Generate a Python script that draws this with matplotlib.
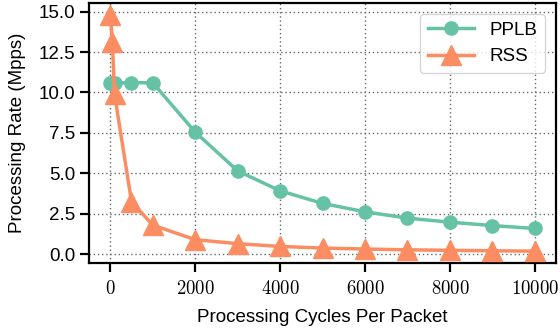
import matplotlib
matplotlib.use("Agg")
import matplotlib.pyplot as plt

# Values (Mpps)
cycles = [0, 50, 100, 500, 1000, 2000, 3000, 4000, 5000, 6000, 7000, 8000, 9000, 10000]
pplb = [10.6, 10.6, 10.6, 10.6, 10.6, 7.55, 5.15, 3.92, 3.14, 2.62, 2.23, 1.98, 1.77, 1.59]
rss = [14.8, 13.1, 9.9, 3.25, 1.8, 0.9, 0.65, 0.48, 0.38, 0.32, 0.27, 0.24, 0.21, 0.19]

x_ticks = [0, 2000, 4000, 6000, 8000, 10000]
y_ticks = [0, 2.5, 5.0, 7.5, 10.0, 12.5, 15.0]

GREEN = "#66c2a5"
ORANGE = "#fc8d62"

plt.rcParams["font.family"] = ["Liberation Sans", "DejaVu Sans"]
plt.rcParams["font.size"] = 13.5
plt.rcParams["mathtext.fontset"] = "cm"

fig, ax = plt.subplots(figsize=(5.6, 3.32), dpi=100)
fig.subplots_adjust(left=0.159, right=0.993, top=0.991, bottom=0.208)

ax.plot(cycles, pplb, color=GREEN, linewidth=2.5, marker="o", markersize=9.5, label="PPLB", zorder=3)
ax.plot(cycles, rss, color=ORANGE, linewidth=2.5, marker="^", markersize=14, label="RSS", zorder=3)

ax.set_yticks(y_ticks)
ax.set_yticklabels([f"{v:.1f}" for v in y_ticks])
ax.set_xticks(x_ticks)
# x tick labels come out in the serif math font in the reference
ax.set_xticklabels([f"${v}$" for v in x_ticks])

ax.grid(True, linestyle=(0, (1, 2)), color="#666666", linewidth=1)
ax.set_axisbelow(True)
ax.tick_params(direction="out", length=6.5, width=1.6, colors="black", labelsize=13.5)
ax.tick_params(axis="x", pad=6)
for spine in ax.spines.values():
    spine.set_linewidth(1.6)
    spine.set_color("black")

ax.set_xlabel("Processing Cycles Per Packet", labelpad=8)
ax.set_ylabel("Processing Rate (Mpps)", labelpad=9)
ax.legend(loc="upper right", fancybox=True, handlelength=2.5, borderaxespad=0.6)

fig.savefig("out.png", dpi=100)
